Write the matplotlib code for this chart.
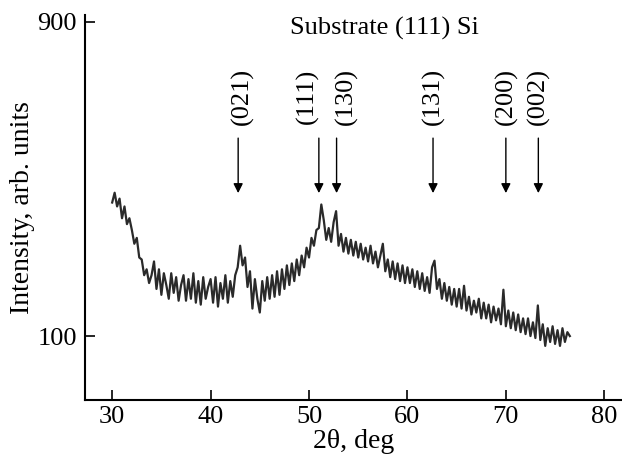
import numpy as np
import matplotlib
matplotlib.use("Agg")
import matplotlib.pyplot as plt

# --- Data (0.25 deg steps) ---
two_theta = np.arange(30.0, 76.51, 0.25)
intensity = [
    440, 465, 430, 450,  400, 430, 385, 400,  370, 335, 350, 300,  295, 255, 270, 235,   # 30-33
    255, 290, 220, 270,  205, 260, 230, 195,  260, 210, 250, 190,  230, 255, 190, 245,   # 34-37
    195, 260, 185, 240,  180, 250, 195, 225,  245, 185, 250, 175,  235, 195, 255, 185,   # 38-41
    240, 200, 255, 275,  330, 280, 300, 225,  265, 170, 245, 195,  160, 240, 190, 250,   # 42-45
    195, 255, 200, 265,  205, 270, 220, 280,  230, 285, 240, 295,  255, 305, 275, 325,   # 46-49
    300, 350, 330, 370,  375, 435, 395, 345,  375, 340, 390, 418,  330, 360, 315, 350,   # 50-53
    310, 345, 305, 340,  300, 335, 295, 325,  290, 330, 285, 315,  275, 305, 335, 265,   # 54-57
    295, 250, 290, 245,  285, 240, 280, 235,  275, 235, 270, 225,  265, 220, 260, 215,   # 58-61
    250, 210, 275, 292,  220, 245, 195, 235,  190, 225, 180, 220,  175, 220, 170, 228,   # 62-65
    165, 200, 155, 190,  160, 195, 145, 185,  145, 180, 135, 175,  140, 170, 130, 218,   # 66-69
    125, 165, 120, 160,  115, 155, 110, 145,  105, 145, 100, 135,  95, 178, 90, 130,     # 70-73
    75, 120, 85, 125,  80, 115, 75, 120,  85, 110, 100,                                 # 74-76.5
]

# Reflection markers
peak_labels = ["(021)", "(111)", "(130)", "(131)", "(200)", "(002)"]
peak_pos = [42.8, 51.0, 52.8, 62.6, 70.0, 73.3]
label_shift = [3, -8, 7, 0, 0, 0]  # horizontal nudge of text, points

plt.rcParams["font.family"] = ["Liberation Serif", "DejaVu Serif"]
plt.rcParams["font.size"] = 19

fig = plt.figure(figsize=(6.22, 4.62), dpi=100)
ax = fig.add_axes([0.137, 0.134, 0.863, 0.834])

ax.plot(two_theta, intensity, color="#2a2a2a", lw=1.6)

for lab, pos, dx in zip(peak_labels, peak_pos, label_shift):
    ax.annotate("", xy=(pos, 464), xytext=(pos, 604),
                arrowprops=dict(arrowstyle="-|>", color="black", lw=1.0,
                                mutation_scale=14, shrinkA=0, shrinkB=0))
    ax.annotate(lab, xy=(pos, 711), xytext=(dx, 0), textcoords="offset points",
                rotation=90, ha="center", va="center")

ax.text(57.7, 882, "Substrate (111) Si", ha="center", va="center")

ax.set_xlim(27.26, 81.8)
ax.set_ylim(-63, 918)
ax.set_xticks([30, 40, 50, 60, 70, 80])
ax.set_yticks([100, 900])
ax.tick_params(direction="in", length=7, width=1.2)
ax.tick_params(axis="x", pad=4)
ax.tick_params(axis="y", pad=6)
for side in ["top", "right"]:
    ax.spines[side].set_visible(False)
for side in ["left", "bottom"]:
    ax.spines[side].set_linewidth(1.5)

ax.set_xlabel("2θ, deg", fontsize=20, labelpad=1)
ax.set_ylabel("Intensity, arb. units", fontsize=20, labelpad=2)

fig.savefig("out.png", dpi=100)
